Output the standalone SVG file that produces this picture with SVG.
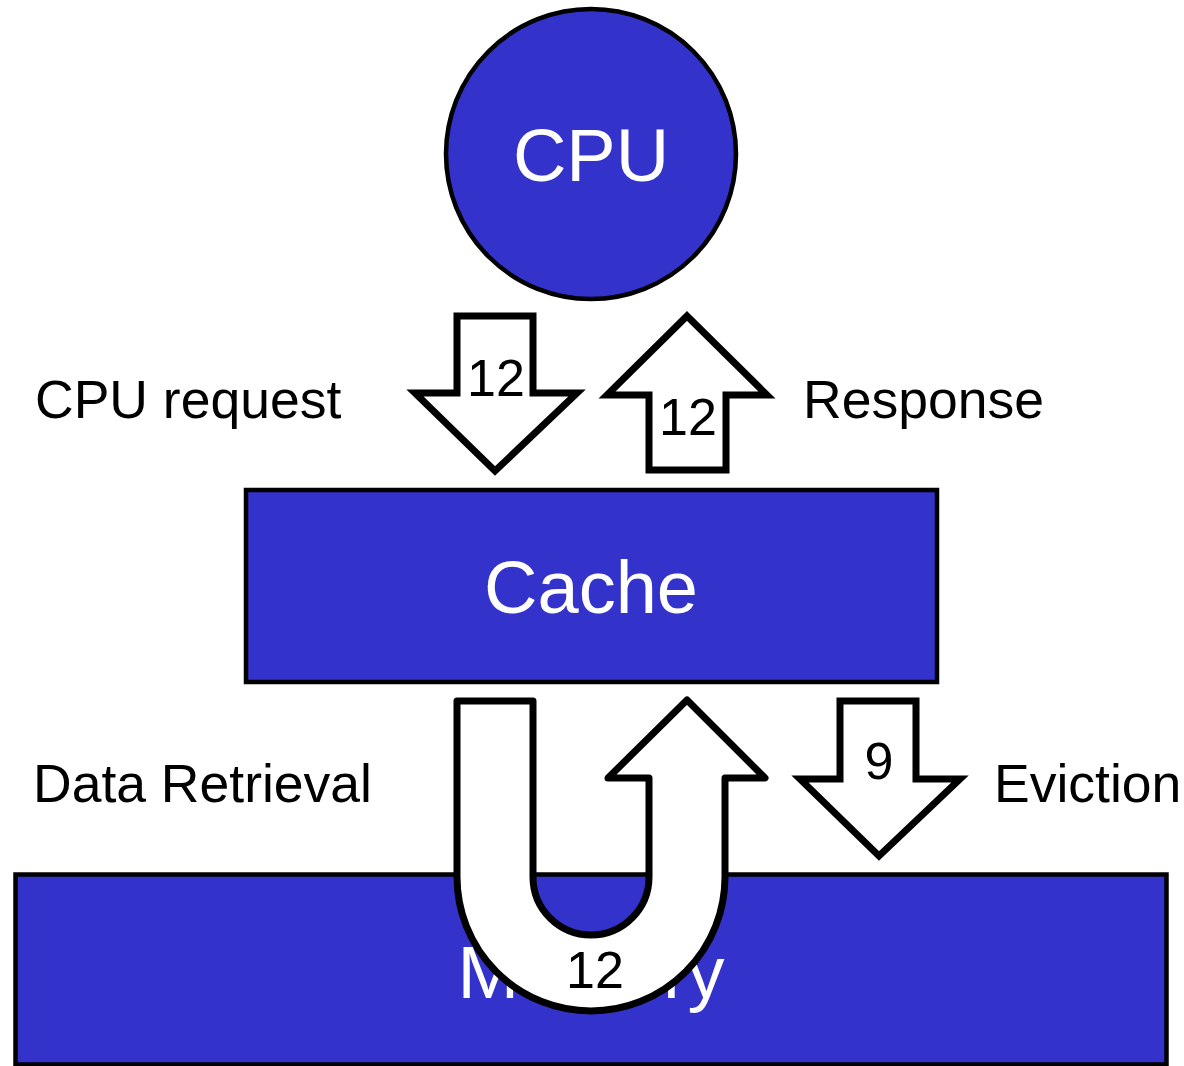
<svg xmlns="http://www.w3.org/2000/svg" width="1184" height="1066" viewBox="0 0 1184 1066">
<style>
.node{fill:#3333CC;stroke:#000;stroke-width:4.5}
.big{font-family:"Liberation Sans",Arial,sans-serif;font-size:74px;fill:#fff;text-anchor:middle}
.lbl{font-family:"Liberation Sans",Arial,sans-serif;font-size:53.5px;fill:#000}
.num{font-family:"Liberation Sans",Arial,sans-serif;font-size:52px;fill:#000;text-anchor:middle}
.arr{fill:#fff;stroke:#000;stroke-width:7;stroke-linejoin:miter}
.uarr{fill:#fff;stroke:#000;stroke-width:7;stroke-linejoin:round}
</style>
<rect width="1184" height="1066" fill="#fff"/>
<g id="cpu">
<circle class="node" cx="591" cy="154" r="145"/>
<text class="big" x="591" y="181">CPU</text>
</g>
<g id="cache">
<rect class="node" x="246" y="490" width="691" height="192"/>
<text class="big" x="591" y="613">Cache</text>
</g>
<g id="memory">
<rect class="node" x="15.5" y="874.5" width="1151" height="190"/>
<text class="big" x="591" y="998">Memory</text>
</g>
<g id="connectors">
<g id="cpu-request">
<polygon class="arr" points="457,316 533,316 533,393 577,393 495,471 415,393 457,393"/>
<text class="num" x="496" y="396">12</text>
</g>
<g id="response">
<polygon class="arr" points="687,316 767,395 726,395 726,470 649,470 649,395 607,395"/>
<text class="num" x="688" y="435">12</text>
</g>
<g id="retrieval">
<path class="uarr" d="M457,701 L533,701 L533,877 A58,58 0 0 0 649,877 L649,778 L608,778 L687,700 L765,778 L725,778 L725,877 A134,134 0 0 1 457,877 Z"/>
<text class="num" x="595" y="988">12</text>
</g>
<g id="eviction">
<polygon class="arr" points="840,701 916,701 916,779 960,779 879,856 800,779 840,779"/>
<text class="num" x="879" y="779">9</text>
</g>
</g>
<g id="labels">
<text class="lbl" x="35" y="418">CPU request</text>
<text class="lbl" x="803" y="418">Response</text>
<text class="lbl" x="33" y="802">Data Retrieval</text>
<text class="lbl" x="994" y="802">Eviction</text>
</g>
</svg>
